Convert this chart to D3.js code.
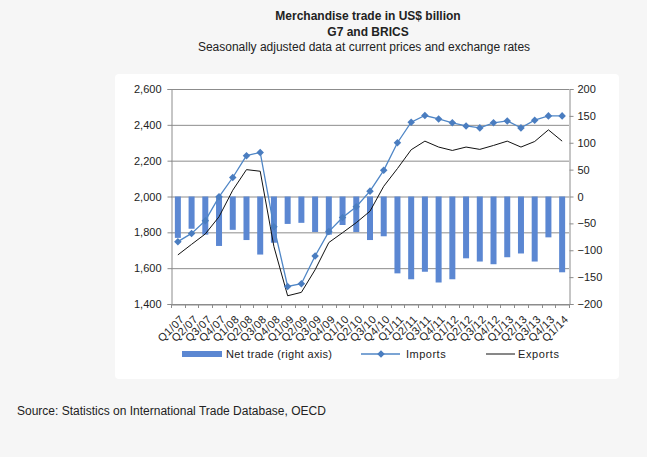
<!DOCTYPE html>
<html><head><meta charset="utf-8">
<script src="https://cdn.jsdelivr.net/npm/d3@7"></script>
<style>
html,body{margin:0;padding:0;background:#f6f6f6;}
svg{display:block;font-family:"Liberation Sans",Arial,sans-serif;}
</style></head>
<body>
<svg id="c" width="647" height="457"></svg>
<script>
const quarters = ["Q1/07","Q2/07","Q3/07","Q4/07","Q1/08","Q2/08","Q3/08","Q4/08","Q1/09","Q2/09","Q3/09","Q4/09","Q1/10","Q2/10","Q3/10","Q4/10","Q1/11","Q2/11","Q3/11","Q4/11","Q1/12","Q2/12","Q3/12","Q4/12","Q1/13","Q2/13","Q3/13","Q4/13","Q1/14"];
const imports = [1748,1794,1865,1998,2106,2228,2246,1831,1498,1513,1668,1804,1883,1943,2030,2146,2300,2415,2452,2433,2411,2394,2383,2411,2422,2383,2426,2450,2450];
const exportsV = [1674,1733,1791,1887,2035,2150,2141,1720,1446,1465,1591,1743,1798,1854,1918,2057,2156,2261,2309,2276,2257,2276,2263,2285,2309,2276,2307,2372,2309];
const netTrade = [-77,-60,-71,-92,-62,-81,-108,-86,-51,-49,-66,-71,-53,-66,-81,-74,-143,-154,-140,-160,-154,-115,-121,-126,-113,-106,-121,-76,-141];
const leftTicks = [1400,1600,1800,2000,2200,2400,2600];
const rightTicks = [-200,-150,-100,-50,0,50,100,150,200];

const svg = d3.select("#c");
const L = 171, R = 569, T = 89, B = 304;

svg.append("rect").attr("x",115).attr("y",74).attr("width",504).attr("height",305)
  .attr("rx",4).attr("fill","#ffffff");

const x = d3.scaleBand().domain(quarters).range([L,R]);
const yL = d3.scaleLinear().domain([1400,2600]).range([B,T]);
const yR = d3.scaleLinear().domain([-200,200]).range([B,T]);

// gridlines
svg.append("g").selectAll("line").data(leftTicks).join("line")
  .attr("x1",L).attr("x2",R).attr("y1",d=>yL(d)+0.5).attr("y2",d=>yL(d)+0.5)
  .attr("stroke","#8c8c8c").attr("stroke-width",1);

// bars
const bw = 6;
svg.append("g").selectAll("rect").data(netTrade).join("rect")
  .attr("x",(d,i)=>x(quarters[i])+x.bandwidth()/2-bw/2)
  .attr("y",d=>yR(Math.max(0,d)))
  .attr("width",bw)
  .attr("height",d=>Math.abs(yR(d)-yR(0)))
  .attr("fill","#5b87d2");

// left axis
const gL = svg.append("g").attr("transform",`translate(${L+0.5},0)`)
  .call(d3.axisLeft(yL).tickValues(leftTicks).tickFormat(d3.format(",")).tickSize(4).tickPadding(6));
const gR = svg.append("g").attr("transform",`translate(${R+0.5},0)`)
  .call(d3.axisRight(yR).tickValues(rightTicks).tickSize(4).tickPadding(4));
[gL,gR].forEach(g=>{
  g.select(".domain").attr("stroke","#8c8c8c");
  g.selectAll(".tick line").attr("stroke","#8c8c8c");
  g.selectAll("text").attr("font-size",11).attr("fill","#222").attr("font-family","Liberation Sans, Arial, sans-serif");
});

// x axis
const gX = svg.append("g").attr("transform",`translate(0,${B+0.5})`)
  .call(d3.axisBottom(x).tickSize(0).tickFormat(""));
gX.select(".domain").attr("stroke","#8c8c8c");
svg.append("g").selectAll("line").data(d3.range(quarters.length+1)).join("line")
  .attr("x1",i=>Math.round(L+i*x.step())+0.5).attr("x2",i=>Math.round(L+i*x.step())+0.5)
  .attr("y1",B).attr("y2",B+4).attr("stroke","#8c8c8c");
svg.append("g").selectAll("text").data(quarters).join("text")
  .attr("transform",d=>`translate(${x(d)+x.bandwidth()/2+7},${B+16}) rotate(-45)`)
  .attr("text-anchor","end").attr("font-size",11).attr("letter-spacing",0.4).attr("fill","#222")
  .text(d=>d);

// lines
const lineL = d3.line().x((d,i)=>x(quarters[i])+x.bandwidth()/2).y(d=>yL(d));
svg.append("path").datum(imports).attr("d",lineL).attr("fill","none")
  .attr("stroke","#4f86c6").attr("stroke-width",1.3);
svg.append("path").datum(exportsV).attr("d",lineL).attr("fill","none")
  .attr("stroke","#111").attr("stroke-width",1);
const diamond = d3.symbol().type(d3.symbolDiamond2).size(36);
svg.append("g").selectAll("path").data(imports).join("path")
  .attr("transform",(d,i)=>`translate(${x(quarters[i])+x.bandwidth()/2},${yL(d)})`)
  .attr("d",diamond).attr("fill","#4a7dc0");

// legend
const lg = svg.append("g").attr("font-size",11).attr("fill","#222");
lg.append("rect").attr("x",182).attr("y",351).attr("width",40).attr("height",6).attr("fill","#5b87d2");
lg.append("text").attr("x",226).attr("y",358).text("Net trade (right axis)").attr("letter-spacing",0.3);
lg.append("line").attr("x1",361).attr("x2",400).attr("y1",354).attr("y2",354).attr("stroke","#4f86c6").attr("stroke-width",1.3);
lg.append("path").attr("transform","translate(381,354)").attr("d",diamond).attr("fill","#4a7dc0");
lg.append("text").attr("x",406).attr("y",358).text("Imports").attr("letter-spacing",0.5);
lg.append("line").attr("x1",486).attr("x2",515).attr("y1",354).attr("y2",354).attr("stroke","#111").attr("stroke-width",1);
lg.append("text").attr("x",518).attr("y",358).text("Exports").attr("letter-spacing",0.6);

// titles
svg.append("text").attr("x",368).attr("y",20).attr("text-anchor","middle").attr("font-size",12).attr("font-weight","bold").attr("fill","#222").text("Merchandise trade in US$ billion");
svg.append("text").attr("x",368).attr("y",36).attr("text-anchor","middle").attr("font-size",12).attr("font-weight","bold").attr("fill","#222").text("G7 and BRICS");
svg.append("text").attr("x",364).attr("y",51).attr("text-anchor","middle").attr("font-size",12).attr("fill","#222").text("Seasonally adjusted data at current prices and exchange rates");
svg.append("text").attr("x",17).attr("y",415).attr("font-size",12).attr("fill","#222").text("Source: Statistics on International Trade Database, OECD");
</script>
</body></html>
